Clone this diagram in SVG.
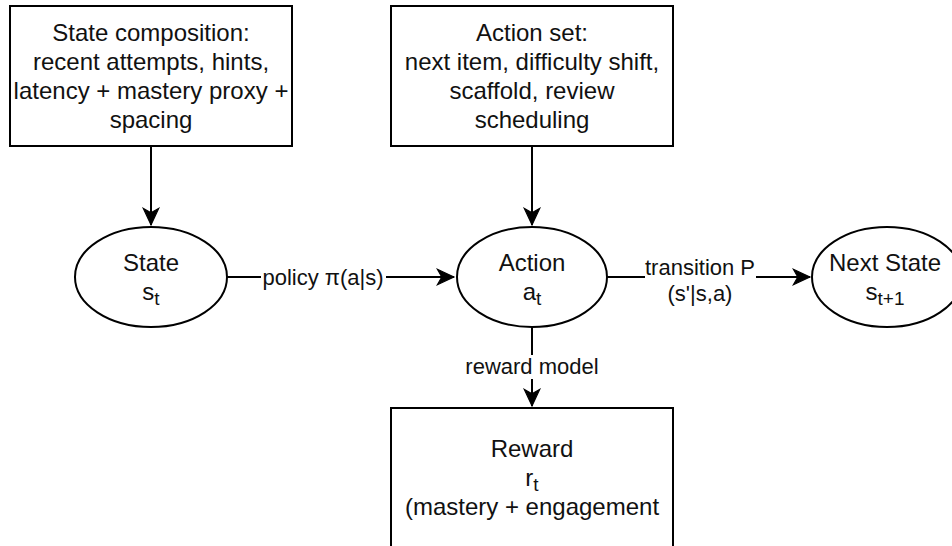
<svg xmlns="http://www.w3.org/2000/svg" width="952" height="546" viewBox="0 0 952 546">
<style>
.node{fill:#fff;stroke:#000;stroke-width:2}
.t{font-family:"Liberation Sans",Arial,sans-serif;font-size:24px;fill:#111;text-anchor:middle}
.lbl{font-family:"Liberation Sans",Arial,sans-serif;font-size:22px;fill:#111;text-anchor:middle}
.sub{font-size:19px}
.edge{fill:none;stroke:#000;stroke-width:2}
.bg{fill:#fff;stroke:none}
</style>
<defs>
<marker id="arr" markerUnits="userSpaceOnUse" markerWidth="20" markerHeight="20" viewBox="-16 -8 18 16" refX="0" refY="0" orient="auto">
<path d="M0,0 L-15,-7 L-11,0 L-15,7 Z" fill="#000" stroke="#000" stroke-width="1" stroke-linejoin="miter"/>
</marker>
</defs>
<rect width="952" height="546" fill="#fff"/>
<g id="connectors">
<path class="edge" d="M151,146 L151,225" marker-end="url(#arr)"/>
<path class="edge" d="M532,146 L532,225" marker-end="url(#arr)"/>
<path class="edge" d="M227,277 L454,277" marker-end="url(#arr)"/>
<path class="edge" d="M607,277 L810,277" marker-end="url(#arr)"/>
<path class="edge" d="M532,327 L532,406" marker-end="url(#arr)"/>
<rect class="bg" x="261" y="266" width="125" height="24"/>
<text class="lbl" x="323" y="285">policy π(a|s)</text>
<rect class="bg" x="645" y="256" width="111" height="48"/>
<text class="lbl" x="700" y="275">transition P</text>
<text class="lbl" x="700" y="301">(s'|s,a)</text>
<rect class="bg" x="462" y="355" width="140" height="24"/>
<text class="lbl" x="532" y="374">reward model</text>
</g>
<g id="state-composition">
<rect class="node" x="10" y="6" width="282" height="140"/>
<text class="t" x="151" y="41">State composition:</text>
<text class="t" x="151" y="70">recent attempts, hints,</text>
<text class="t" x="151" y="99">latency + mastery proxy +</text>
<text class="t" x="151" y="128">spacing</text>
</g>
<g id="action-set">
<rect class="node" x="391" y="6" width="282" height="140"/>
<text class="t" x="532" y="41">Action set:</text>
<text class="t" x="532" y="70">next item, difficulty shift,</text>
<text class="t" x="532" y="99">scaffold, review</text>
<text class="t" x="532" y="128">scheduling</text>
</g>
<g id="state">
<ellipse class="node" cx="151" cy="277" rx="76" ry="50"/>
<text class="t" x="151" y="271">State</text>
<text class="t" x="151" y="300">s<tspan class="sub" dy="5">t</tspan></text>
</g>
<g id="action">
<ellipse class="node" cx="532" cy="277" rx="75" ry="50"/>
<text class="t" x="532" y="271">Action</text>
<text class="t" x="532" y="300">a<tspan class="sub" dy="5">t</tspan></text>
</g>
<g id="next-state">
<ellipse class="node" cx="887" cy="277" rx="75" ry="50"/>
<text class="t" x="885" y="271">Next State</text>
<text class="t" x="885" y="300">s<tspan class="sub" dy="5">t+1</tspan></text>
</g>
<g id="reward">
<rect class="node" x="391" y="408" width="282" height="140"/>
<text class="t" x="532" y="457">Reward</text>
<text class="t" x="532" y="486">r<tspan class="sub" dy="5">t</tspan></text>
<text class="t" x="532" y="515">(mastery + engagement</text>
</g>
</svg>
